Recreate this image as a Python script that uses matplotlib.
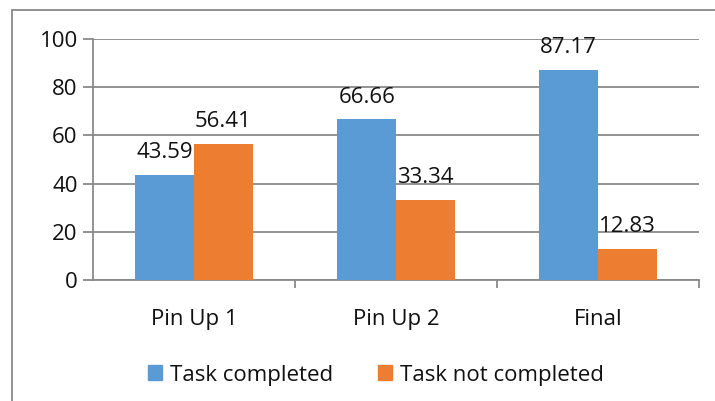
import numpy as np
import matplotlib
matplotlib.use("Agg")
import matplotlib.pyplot as plt
from matplotlib.patches import Patch, Rectangle

# ── Data ──────────────────────────────────────────────────────────────────────
categories = ["Pin Up 1", "Pin Up 2", "Final"]
completed = [43.59, 66.66, 87.17]
not_completed = [56.41, 33.34, 12.83]
series_names = ["Task completed", "Task not completed"]
y_ticks = [0, 20, 40, 60, 80, 100]

BLUE = "#5B9BD5"
ORANGE = "#ED7D31"
GRID = "#898989"
FONT = "Open Sans"
FS = 16

plt.rcParams["font.family"] = [FONT, "DejaVu Sans"]

W, H = 715, 401
fig = plt.figure(figsize=(W / 100, H / 100), dpi=100)
ax = fig.add_axes([93 / W, 1 - 280 / H, (699 - 93) / W, (280 - 39) / H])

x = np.arange(len(categories))
bw = 0.29
b1 = ax.bar(x - bw / 2, completed, bw, color=BLUE, label=series_names[0], zorder=3)
b2 = ax.bar(x + bw / 2, not_completed, bw, color=ORANGE, label=series_names[1], zorder=3)

# data labels
for bars in (b1, b2):
    for rect in bars:
        v = rect.get_height()
        ax.annotate(f"{v:.2f}", (rect.get_x() + rect.get_width() / 2, v),
                    xytext=(0, 12), textcoords="offset points",
                    ha="center", va="baseline", fontsize=FS, color="#111111")

ax.set_xlim(-0.5, len(categories) - 0.5)
ax.set_ylim(0, 100)
ax.set_yticks(y_ticks)
ax.yaxis.grid(True, color=GRID, linewidth=1.3, zorder=0)
ax.set_axisbelow(True)

for s in ("top", "right"):
    ax.spines[s].set_visible(False)
for s in ("left", "bottom"):
    ax.spines[s].set_color(GRID)
    ax.spines[s].set_linewidth(1.3)

ax.tick_params(axis="y", length=7, width=1.3, color=GRID, pad=4,
               labelsize=FS, labelcolor="#111111")
ax.set_xticks(x)
ax.set_xticklabels(categories)
ax.set_xticks(np.arange(len(categories)) + 0.5, minor=True)
ax.tick_params(axis="x", which="major", length=0, pad=21,
               labelsize=FS, labelcolor="#111111")
ax.tick_params(axis="x", which="minor", length=6, width=1.3, color=GRID)

# legend
handles = [Patch(color=BLUE), Patch(color=ORANGE)]
fig.legend(handles, series_names, loc="center", bbox_to_anchor=(376 / W, 1 - 375 / H),
           ncol=2, frameon=False, fontsize=FS, handlelength=0.63, handleheight=0.68,
           handletextpad=0.38, columnspacing=2.0, labelcolor="#111111")

# chart border (right and bottom edges fall outside the picture)
fig.patches.append(Rectangle((12 / W, -0.1), 1.2, 1 - 10 / H + 0.1,
                             transform=fig.transFigure, fill=False,
                             edgecolor=GRID, linewidth=1.3))

fig.savefig("out.png", dpi=100)
